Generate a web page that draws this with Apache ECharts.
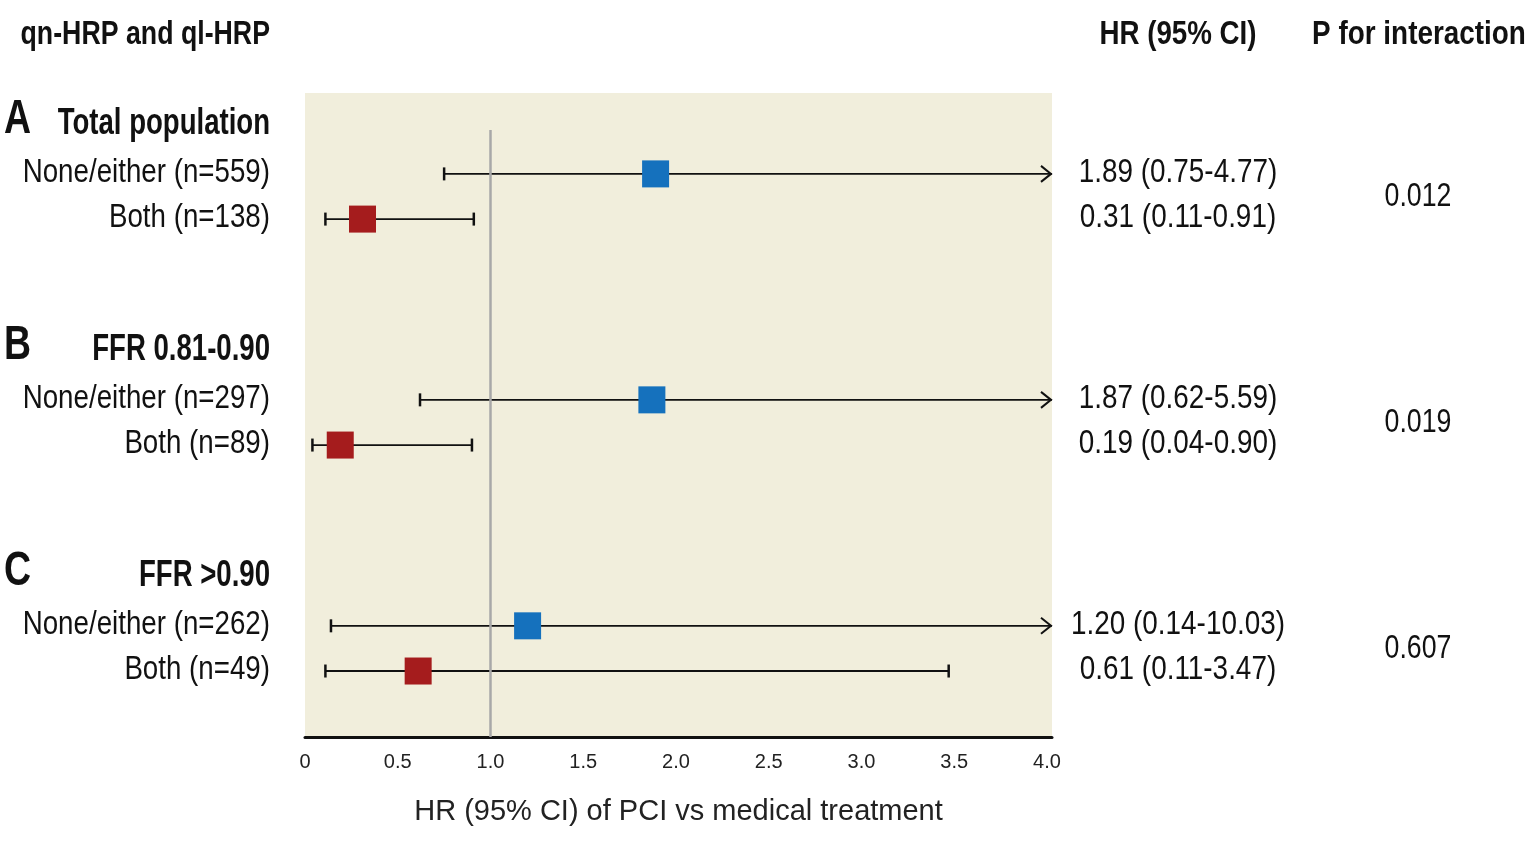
<!DOCTYPE html>
<html>
<head>
<meta charset="utf-8">
<script src="https://cdn.jsdelivr.net/npm/echarts@6/dist/echarts.min.js"></script>
<style>
html,body{margin:0;padding:0;background:#fff;}
#main{width:1538px;height:841px;}
</style>
</head>
<body>
<div id="main"></div>
<script>
// ---- data ----
const groupLetters = ['A', 'B', 'C'];
const groupNames = ['Total population', 'FFR 0.81-0.90', 'FFR >0.90'];
const subgroupNames = ['None/either', 'Both'];
const nValues = [[559, 138], [297, 89], [262, 49]];
const hrValues = [[1.89, 0.31], [1.87, 0.19], [1.20, 0.61]];
const lowerCI = [[0.75, 0.11], [0.62, 0.04], [0.14, 0.11]];
const upperCI = [[4.77, 0.91], [5.59, 0.90], [10.03, 3.47]];
const pInteraction = ['0.012', '0.019', '0.607'];
const referenceHR = 1.0;
const headerLeft = 'qn-HRP and ql-HRP';
const headerHR = 'HR (95% CI)';
const headerP = 'P for interaction';
const axisTitle = 'HR (95% CI) of PCI vs medical treatment';

// ---- layout helpers ----
const X_MAX = 4.027;
const Y_MIN = -0.79, Y_MAX = 13.46;
function rowPos(g, r) { return g * 5 + 1 + r; }
const FONT = 'Liberation Sans, Arial, sans-serif';

function txt(x, y, text, o) {
  return {
    type: 'text', x: x, y: y, scaleX: o.sx,
    style: {
      text: text, fontFamily: FONT, fontSize: o.fs,
      fontWeight: o.bold ? 'bold' : 'normal', fill: '#111',
      align: o.align, verticalAlign: 'middle'
    }
  };
}

const ciData = [], blueData = [], redData = [], labelData = [];
for (let g = 0; g < groupNames.length; g++) {
  for (let r = 0; r < subgroupNames.length; r++) {
    const v = rowPos(g, r);
    ciData.push([lowerCI[g][r], upperCI[g][r], v]);
    (r === 0 ? blueData : redData).push([hrValues[g][r], v]);
    labelData.push([0, v, g, r]);
  }
}

const chart = echarts.init(document.getElementById('main'));

const option = {
  animation: false,
  grid: {
    left: 305, right: 486, top: 93, bottom: 104,
    show: true, backgroundColor: '#F1EEDC', borderWidth: 0
  },
  xAxis: {
    type: 'value', min: 0, max: X_MAX, interval: 0.5,
    axisLine: { show: true, onZero: false, lineStyle: { color: '#111', width: 3 } },
    axisTick: { show: false },
    splitLine: { show: false },
    axisLabel: {
      color: '#222', fontSize: 20, fontFamily: FONT, margin: 15,
      formatter: function (val) {
        if (Math.abs(val / 0.5 - Math.round(val / 0.5)) > 1e-6) return '';
        return val === 0 ? '0' : val.toFixed(1);
      }
    },
    name: axisTitle, nameLocation: 'middle', nameGap: 60,
    nameTextStyle: { fontSize: 29, fontFamily: FONT, color: '#222' }
  },
  yAxis: { type: 'value', show: false, inverse: true, min: Y_MIN, max: Y_MAX },
  graphic: [
    txt(270, 35, headerLeft, { fs: 33, bold: true, align: 'right', sx: 0.81 }),
    txt(1178, 35, headerHR, { fs: 33, bold: true, align: 'center', sx: 0.84 }),
    txt(1419, 35, headerP, { fs: 33, bold: true, align: 'center', sx: 0.845 })
  ],
  series: [
    {
      type: 'custom', name: 'ref', z: 3, clip: false, silent: true,
      data: [[referenceHR]],
      encode: { x: 0 },
      renderItem: function (params, api) {
        const x = api.value(0);
        const a = api.coord([x, 0.03]);
        const b = api.coord([x, Y_MAX]);
        return { type: 'line', shape: { x1: a[0], y1: a[1], x2: b[0], y2: b[1] },
                 style: { stroke: '#A8A8A8', lineWidth: 2.5 } };
      }
    },
    {
      type: 'custom', name: 'ci', z: 2, clip: false, silent: true,
      data: ciData,
      encode: { x: [0, 1], y: 2 },
      renderItem: function (params, api) {
        const lo = api.value(0), up = api.value(1), v = api.value(2);
        const p0 = api.coord([lo, v]);
        const p1 = api.coord([Math.min(up, X_MAX), v]);
        const st = { stroke: '#111', lineWidth: 1.8 };
        const capSt = { stroke: '#111', lineWidth: 2.5 };
        const ch = [
          { type: 'line', shape: { x1: p0[0], y1: p0[1], x2: p1[0], y2: p1[1] }, style: st },
          { type: 'line', shape: { x1: p0[0], y1: p0[1] - 6.5, x2: p0[0], y2: p0[1] + 6.5 }, style: capSt }
        ];
        if (up <= X_MAX) {
          ch.push({ type: 'line', shape: { x1: p1[0], y1: p1[1] - 6.5, x2: p1[0], y2: p1[1] + 6.5 }, style: capSt });
        } else {
          ch.push({ type: 'polyline', shape: { points: [[p1[0] - 11, p1[1] - 8], [p1[0] - 1, p1[1]], [p1[0] - 11, p1[1] + 8]] },
                    style: { stroke: '#111', lineWidth: 2, fill: null } });
        }
        return { type: 'group', children: ch };
      }
    },
    {
      type: 'scatter', name: 'None/either', z: 5, symbol: 'rect', symbolSize: 27,
      itemStyle: { color: '#1571BD', opacity: 1 }, data: blueData, silent: true
    },
    {
      type: 'scatter', name: 'Both', z: 5, symbol: 'rect', symbolSize: 27,
      itemStyle: { color: '#A51C1D', opacity: 1 }, data: redData, silent: true
    },
    {
      type: 'custom', name: 'labels', z: 6, clip: false, silent: true,
      data: labelData,
      encode: { x: 0, y: 1 },
      renderItem: function (params, api) {
        const v = api.value(1), g = api.value(2), r = api.value(3);
        const y = api.coord([0, v])[1];
        const ch = [];
        ch.push(txt(270, y - 1, subgroupNames[r] + ' (n=' + nValues[g][r] + ')', { fs: 33, align: 'right', sx: 0.84 }));
        const hrText = hrValues[g][r].toFixed(2) + ' (' + lowerCI[g][r].toFixed(2) + '-' + upperCI[g][r].toFixed(2) + ')';
        ch.push(txt(1178, y - 1, hrText, { fs: 33, align: 'center', sx: 0.845 }));
        if (r === 0) {
          const yh = api.coord([0, v - 1.15])[1] + 2;
          ch.push(txt(270, yh, groupNames[g], { fs: 37, bold: true, align: 'right', sx: 0.745 }));
          ch.push(txt(4, yh - 4, groupLetters[g], { fs: 48, bold: true, align: 'left', sx: 0.78 }));
          const yp = api.coord([0, v + 0.5])[1];
          ch.push(txt(1418, yp, pInteraction[g], { fs: 33, align: 'center', sx: 0.81 }));
        }
        return { type: 'group', children: ch };
      }
    }
  ]
};
chart.setOption(option);
</script>
</body>
</html>
